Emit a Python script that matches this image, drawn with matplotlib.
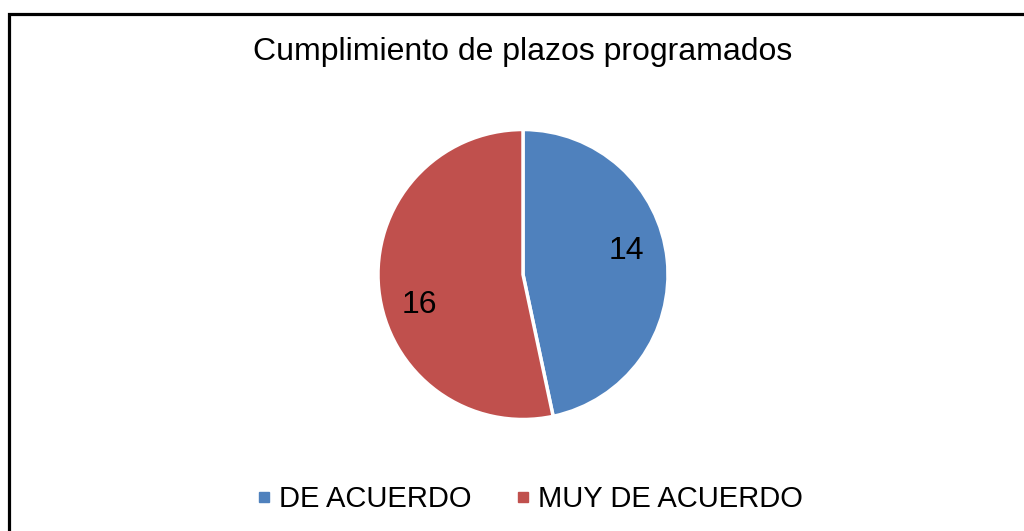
import numpy as np
import matplotlib
matplotlib.use("Agg")
import matplotlib.pyplot as plt
from matplotlib.patches import Rectangle
from matplotlib.lines import Line2D

plt.rcParams['font.family'] = ['Liberation Sans', 'DejaVu Sans']

title = "Cumplimiento de plazos programados"
categories = ["DE ACUERDO", "MUY DE ACUERDO"]
values = [14, 16]
colors = ["#4F81BD", "#C0504D"]

W, H = 1024, 531
fig = plt.figure(figsize=(W / 100, H / 100), dpi=100)
fig.patch.set_facecolor("white")

# outer frame (extends beyond right and bottom edges)
fig.patches.append(Rectangle((8.5 / W, -0.1), 1.2, 1 - 14 / H + 0.1,
                             transform=fig.transFigure, fill=False,
                             edgecolor="black", linewidth=2.3, clip_on=False))

cx, cy, r = 523, 274.5, 145
ax = fig.add_axes([(cx - r) / W, (H - cy - r) / H, 2 * r / W, 2 * r / H])
wedges, texts, autotexts = ax.pie(
    values, colors=colors, startangle=90, counterclock=False,
    autopct=lambda p: f"{p * sum(values) / 100:.0f}", pctdistance=0.735,
    wedgeprops=dict(edgecolor="white", linewidth=2.5),
    textprops=dict(fontsize=23, color="black"))
# shift labels slightly counter-clockwise like the original's best-fit placement
rot = np.deg2rad(8.5)
for t in autotexts:
    x, y = t.get_position()
    t.set_position((x * np.cos(rot) - y * np.sin(rot), x * np.sin(rot) + y * np.cos(rot)))
    t.set_va("center_baseline")
ax.set_xlim(-1, 1)
ax.set_ylim(-1, 1)
ax.set_aspect("equal")
ax.axis("off")

fig.text(523 / W, 1 - 52 / H, title, ha="center", va="center", fontsize=23)

handles = [Line2D([], [], marker="s", linestyle="none", markersize=6.5,
                  markerfacecolor=c, markeredgecolor=c) for c in colors]
fig.legend(handles, categories, loc="center", bbox_to_anchor=(530.5 / W, 1 - 499 / H),
           ncol=2, frameon=False, fontsize=21, handlelength=0.4,
           handletextpad=0.33, columnspacing=1.56, borderpad=0, borderaxespad=0)

fig.savefig("out.png", dpi=100, facecolor="white")
